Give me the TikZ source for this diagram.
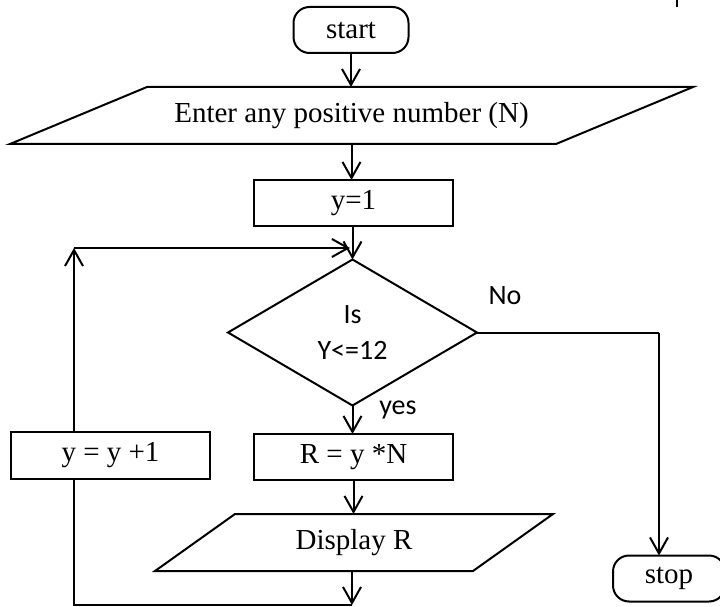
\documentclass[tikz,border=0pt]{standalone}
\usepackage{fontspec}
\setmainfont{Liberation Serif}
\newfontfamily\sansf{Carlito}
\usetikzlibrary{arrows.meta,shapes.geometric,calc}
\begin{document}
\begin{tikzpicture}[x=1pt,y=-1pt,
  every node/.style={font=\fontsize{29}{35}\selectfont, inner sep=0pt, outer sep=0pt},
  box/.style={draw, line width=2pt, minimum width=199pt, minimum height=46pt},
  term/.style={draw, line width=2pt, rounded corners=16pt, minimum height=46pt},
  io/.style={minimum height=57pt},
  dec/.style={draw, diamond, line width=2pt, minimum width=249pt, minimum height=146pt, font=\sansf\fontsize{28}{36}\selectfont, align=center},
  lbl/.style={font=\sansf\fontsize{28}{34}\selectfont},
  arr/.style={line width=2pt, -{Straight Barb[length=16pt,width=18pt]}},
  plain/.style={line width=2pt}]
\useasboundingbox (0,0) rectangle (720,607);

% nodes
\node[term, minimum width=115pt] (start) at (351,30) {start};
\node[io, minimum width=683pt] (enter) at (351.5,115.5) {Enter any positive number (N)};
\draw[plain] ($(enter.north west)+(137,0)$) -- (enter.north east) -- ($(enter.south east)-(137,0)$) -- (enter.south west) -- cycle;
\node[box] (y1) at (353.5,203) {y=1};
\node[dec] (dec) at (352.5,332.5) {Is\\Y<=12};
\node[box, minimum height=47pt] (yinc) at (110.5,455.5) {y = y +1};
\node[box] (calc) at (353.5,457) {R = y *N};
\node[io, minimum width=398pt] (disp) at (354,542.5) {Display R};
\draw[plain] ($(disp.north west)+(80,0)$) -- (disp.north east) -- ($(disp.south east)-(80,0)$) -- (disp.south west) -- cycle;
\node[term, minimum width=112pt] (stop) at (669,578.5) {stop};

\node[lbl] (no) at (505,296) {No};
\node[lbl] (yes) at (398,410) {yes};

% helper coordinates
\coordinate (lc) at (74,248);
\coordinate (lt) at (350,248);
\coordinate (bj) at (352,605);
\coordinate (nc) at (659,332.5);

% connectors
\draw[arr] (start.south) -- (start.south |- enter.north);
\draw[arr] (enter.south) -- (enter.south |- y1.north);
\draw[arr] (dec.north |- y1.south) -- (dec.north);
\draw[arr] (lc |- yinc.north) -- (lc);
\draw[arr] (lc) -- (lt);
\draw[arr] (dec.south) -- (dec.south |- calc.north);
\draw[arr] (calc.south) -- (calc.south |- disp.north);
\draw[arr] (bj |- disp.south) -- (bj);
\draw[plain] (bj) -- (lc |- bj) -- (lc |- yinc.south);
\draw[plain] (dec.east) -- (nc);
\draw[arr] (nc) -- (nc |- stop.north);

% small mark at top right
\draw[line width=1.5pt] (677,0) -- (677,7);
\end{tikzpicture}
\end{document}
